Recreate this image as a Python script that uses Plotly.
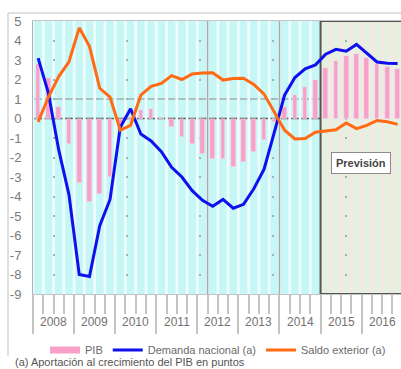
import plotly.graph_objects as go

years = [2008, 2009, 2010, 2011, 2012, 2013, 2014, 2015, 2016]
quarters = [f"{y}-T{q}" for y in years for q in range(1, 5)]
forecast_start = "2015-T1"

pib = [2.8, 2.1, 0.6, -1.3, -3.3, -4.3, -3.85, -3.0,
       -0.3, 0.1, 0.45, 0.5, 0.05, -0.45, -0.97, -1.3,
       -1.8, -2.1, -2.1, -2.5, -2.25, -1.7, -1.1, -0.2,
       0.6, 1.2, 1.6, 2.0, 2.6, 2.95, 3.2, 3.3,
       3.1, 2.8, 2.65, 2.55]
demanda = [3.1, 1.3, -1.6, -3.9, -8.0, -8.1, -5.5, -4.15,
           -0.45, 0.5, -0.8, -1.15, -1.7, -2.5, -3.0, -3.7,
           -4.2, -4.5, -4.15, -4.6, -4.4, -3.6, -2.6, -0.7,
           1.2, 2.1, 2.55, 2.75, 3.3, 3.55, 3.45, 3.8,
           3.35, 2.9, 2.83, 2.82]
saldo = [-0.17, 1.1, 2.15, 2.9, 4.65, 3.7, 1.55, 1.1,
         -0.6, -0.35, 1.2, 1.65, 1.8, 2.2, 2.0, 2.28,
         2.33, 2.35, 1.97, 2.05, 2.06, 1.75, 1.25, 0.3,
         -0.6, -1.05, -1.03, -0.7, -0.65, -0.58, -0.23, -0.52,
         -0.35, -0.1, -0.17, -0.3]
y_ticks = list(range(-9, 6))

x = list(range(len(quarters)))
fc = quarters.index(forecast_start)

W, H = 401, 369
ML, MT, MB = 33, 21, 75
PW, PH = W - ML, H - MT - MB
xmin = -0.5
xmax = xmin + PW / 10.27

fig = go.Figure()

fig.add_trace(go.Bar(x=x, y=pib, marker_color="#f9a0c8", width=0.45,
                     showlegend=False, name="PIB"))
fig.add_trace(go.Scatter(x=[None], y=[None], mode="lines", name="PIB",
                         line=dict(color="#f9a0c8", width=7)))
fig.add_trace(go.Scatter(x=x, y=demanda, mode="lines", name="Demanda nacional (a)",
                         line=dict(color="#1010ee", width=3)))
fig.add_trace(go.Scatter(x=x, y=saldo, mode="lines", name="Saldo exterior (a)",
                         line=dict(color="#ff6a13", width=3)))

shapes = []
shapes.append(dict(type="rect", xref="x", yref="y", x0=fc - 0.5, x1=len(x), y0=-9, y1=5,
                   fillcolor="#e6f0df", line=dict(width=0), layer="below"))
for k in range(len(x) + 1):
    b = k - 0.5
    if k == fc:
        continue
    col = "#effdfd" if k < fc else "#f5e6e8"
    shapes.append(dict(type="rect", xref="x", yref="y", x0=b - 0.13, x1=b + 0.13, y0=-9, y1=5,
                       fillcolor=col, line=dict(width=0), layer="below"))
for vx in [16.5, 23.5]:
    shapes.append(dict(type="line", xref="x", yref="y", x0=vx, x1=vx, y0=-9, y1=5,
                       line=dict(color="#a8a8a8", width=1.5), layer="between"))
shapes.append(dict(type="line", xref="paper", yref="y", x0=0, x1=1, y0=1, y1=1,
                   line=dict(color="#8c8c8c", width=1.2), layer="between"))
shapes.append(dict(type="line", xref="paper", yref="y", x0=0, x1=1, y0=0, y1=0,
                   line=dict(color="#505050", width=1.5), layer="between"))
shapes.append(dict(type="rect", xref="x", yref="y", x0=fc - 0.5, x1=len(x) + 1, y0=-9, y1=5,
                   line=dict(color="#555555", width=2), fillcolor="rgba(0,0,0,0)", layer="between"))
fx0 = (8 - ML) / PW
fy_top = (H - MB - 13) / PH
fy_bot = (H - MB - 356) / PH
shapes.append(dict(type="line", xref="paper", yref="paper", x0=fx0, x1=1.1, y0=fy_top, y1=fy_top,
                   line=dict(color="#d4d4d4", width=1.5)))
shapes.append(dict(type="line", xref="paper", yref="paper", x0=fx0, x1=fx0, y0=fy_top, y1=fy_bot,
                   line=dict(color="#d4d4d4", width=1.5)))

annotations = []
for i, yr in enumerate(years):
    annotations.append(dict(x=4 * i + 1.5, y=(H - MB - 322) / PH, xref="x", yref="paper",
                            text=str(yr), showarrow=False, yanchor="middle",
                            font=dict(family="Liberation Sans, Arial", size=12, color="#727272")))
annotations.append(dict(x=31.45, y=-2.3, xref="x", yref="y", text="<b>Previsión</b>",
                        showarrow=False, bgcolor="white", bordercolor="#8a8a8a", borderwidth=1,
                        borderpad=4, font=dict(family="Liberation Sans, Arial", size=11, color="#444")))
annotations.append(dict(x=(13 - ML) / PW, y=(H - MB - 362) / PH, xref="paper", yref="paper",
                        xanchor="left", yanchor="middle", showarrow=False,
                        text="(a) Aportación al crecimiento del PIB en puntos",
                        font=dict(family="Liberation Sans, Arial", size=11, color="#555")))

fig.update_layout(
    width=W, height=H,
    margin=dict(l=ML, r=0, t=MT, b=MB, pad=0, autoexpand=False),
    paper_bgcolor="white",
    plot_bgcolor="#c6f6f6",
    shapes=shapes,
    annotations=annotations,
    bargap=0,
    legend=dict(orientation="h", x=(45 - ML) / PW, y=(H - MB - 350) / PH,
                xanchor="left", yanchor="middle",
                font=dict(family="Liberation Sans, Arial", size=11, color="#6a6a6a"),
                itemwidth=30, tracegroupgap=0, bgcolor="rgba(0,0,0,0)"),
    xaxis=dict(range=[xmin, xmax], showgrid=False, zeroline=False, automargin=False,
               tickmode="array", tickvals=[4 * i - 0.5 for i in range(len(years))],
               ticks="outside", ticklen=39, tickwidth=1.5, tickcolor="#c4c4c4",
               showticklabels=False, showline=True, linecolor="#c4c4c4", linewidth=1, mirror=True,
               minor=dict(tickmode="linear", tick0=-0.5, dtick=1, ticks="outside",
                          ticklen=19, tickwidth=1.5, tickcolor="#c4c4c4", showgrid=False)),
    yaxis=dict(range=[-9, 5], tickmode="array", tickvals=y_ticks, automargin=False,
               ticktext=[str(v) for v in y_ticks], showgrid=True,
               gridcolor="#9fb3b3", griddash="0px,20px,2px,51px", gridwidth=1.5,
               zeroline=False, showline=True, linecolor="#b0b0b0", linewidth=1,
               ticks="", ticklabelstandoff=8,
               tickfont=dict(family="Liberation Sans, Arial", size=13, color="#7a7a7a")),
    font=dict(family="Liberation Sans, Arial"),
)

fig.write_html("out.html", config={"displayModeBar": False},
               post_script="document.body.style.margin='0';document.body.style.overflow='hidden';")
